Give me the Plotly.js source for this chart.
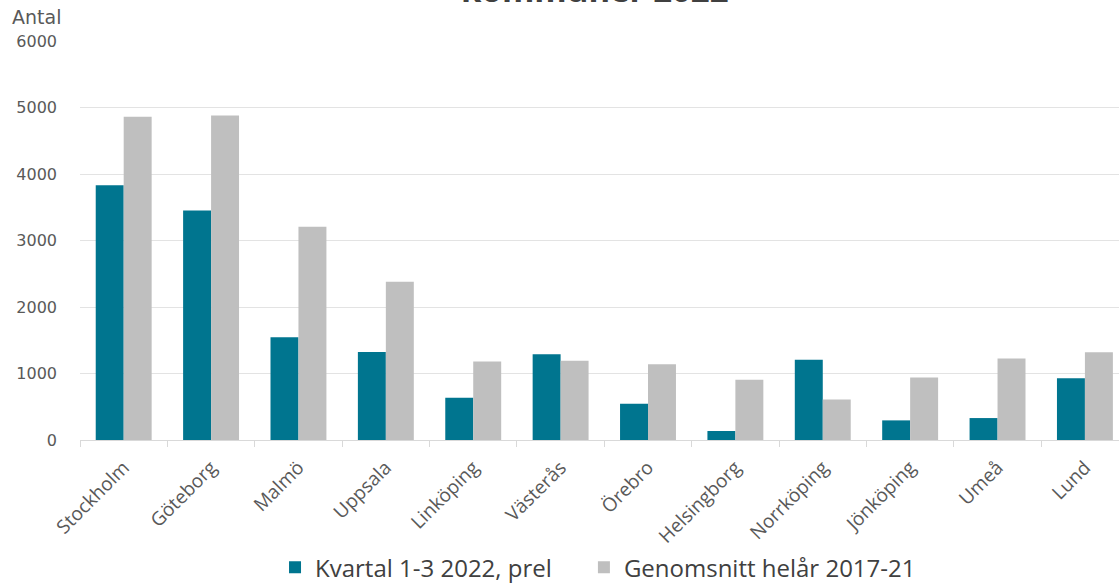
<!DOCTYPE html>
<html>
<head>
<meta charset="utf-8">
<script src="https://cdn.plot.ly/plotly-3.0.1.min.js"></script>
<style>html,body{margin:0;padding:0;background:#fff;}#chart{width:1119px;height:584px;}</style>
</head>
<body>
<div id="chart"></div>
<script>
const categories = ["Stockholm","Göteborg","Malmö","Uppsala","Linköping","Västerås","Örebro","Helsingborg","Norrköping","Jönköping","Umeå","Lund"];
const kvartal2022 = [3830, 3450, 1545, 1325, 635, 1290, 545, 135, 1205, 295, 330, 930];
const snitt2017_21 = [4860, 4880, 3205, 2380, 1180, 1190, 1140, 905, 610, 940, 1225, 1320];
const seriesNames = ["Kvartal 1-3 2022, prel", "Genomsnitt helår 2017-21"];
const yTicks = [0, 1000, 2000, 3000, 4000, 5000, 6000];
const titleText = "kommuner 2022";
const yLabel = "Antal";

const FONT = "Open Sans, sans-serif";
const FONT2 = "DejaVu Sans, sans-serif";
const traces = [
  {type:"bar", name:seriesNames[0], x:categories, y:kvartal2022, marker:{color:"#00758F"}, legend:"legend"},
  {type:"bar", name:seriesNames[1], x:categories, y:snitt2017_21, marker:{color:"#BFBFBF"}, legend:"legend2"}
];
const legFont = {family:FONT, size:24, color:"#404040"};
const layout = {
  width:1119, height:584,
  margin:{l:80, r:0, t:41, b:144},
  paper_bgcolor:"#fff", plot_bgcolor:"#fff",
  barmode:"group", bargap:0.36, bargroupgap:0,
  showlegend:true,
  legend:{orientation:"h", x:0.1877, xanchor:"left", yref:"container", y:0.028, yanchor:"middle", font:legFont},
  legend2:{orientation:"h", x:0.485, xanchor:"left", yref:"container", y:0.028, yanchor:"middle", font:legFont},
  xaxis:{type:"category", range:[-0.5, 11.39], tickangle:-45, tickson:"boundaries", automargin:false,
         ticks:"outside", ticklen:6, tickcolor:"#D9D9D9", showline:true, linecolor:"#D9D9D9", ticklabelstandoff:8,
         tickfont:{family:FONT, size:19, color:"#595959"}, showgrid:false},
  yaxis:{range:[0,6000], tickvals:yTicks, ticktext:yTicks.map(String), showgrid:true, gridcolor:"#E3E3E3",
         automargin:false, zeroline:true, zerolinecolor:"#D9D9D9", ticks:"", ticklabelstandoff:22,
         tickfont:{family:FONT2, size:16, color:"#595959"}},
  annotations:[
    {text:yLabel, xref:"paper", yref:"paper", x:-0.067, y:1.06, xanchor:"left", yanchor:"middle",
     showarrow:false, font:{family:FONT2, size:19, color:"#595959"}},
    {text:"<b>"+titleText+"</b>", xref:"paper", yref:"paper", x:0.496, y:1.067, xanchor:"center", yanchor:"bottom",
     showarrow:false, font:{family:FONT, size:33, color:"#404040"}}
  ]
};
Plotly.newPlot("chart", traces, layout, {displayModeBar:false, staticPlot:true});
</script>
</body>
</html>
